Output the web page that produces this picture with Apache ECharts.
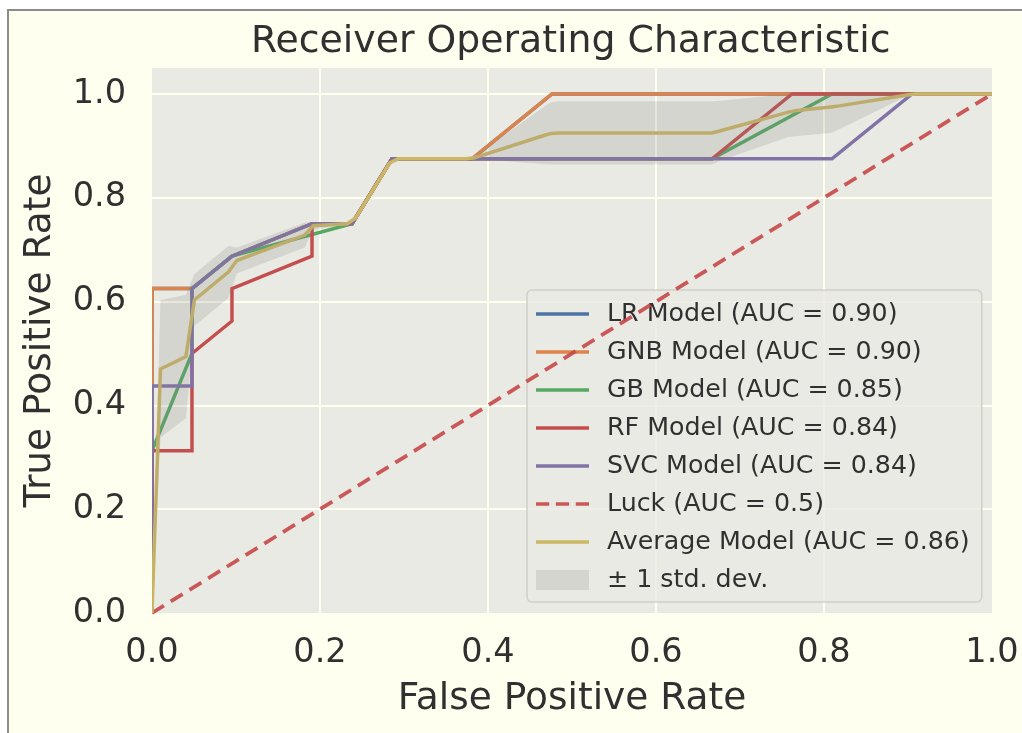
<!DOCTYPE html>
<html><head><meta charset="utf-8">
<script src="https://cdn.jsdelivr.net/npm/echarts@6/dist/echarts.min.js"></script>
<style>
html,body{margin:0;padding:0;background:#ffffff;width:1022px;height:733px;overflow:hidden;}
#frame{position:absolute;left:7px;top:9px;width:1015px;height:724px;background:#FFFFF0;border-top:2px solid #8c8c8c;border-left:2px solid #8c8c8c;box-sizing:border-box;}
#chart{position:absolute;left:0;top:0;width:1022px;height:733px;}
</style></head><body>
<div id="frame"></div>
<div id="chart"></div>
<script>
// ---------- data ----------
const titleText = 'Receiver Operating Characteristic';
const xAxisName = 'False Positive Rate';
const yAxisName = 'True Positive Rate';
const xTickLabels = ['0.0', '0.2', '0.4', '0.6', '0.8', '1.0'];
const yTickLabels = ['0.0', '0.2', '0.4', '0.6', '0.8', '1.0'];

const seriesNames = [
  'LR Model (AUC = 0.90)',
  'GNB Model (AUC = 0.90)',
  'GB Model (AUC = 0.85)',
  'RF Model (AUC = 0.84)',
  'SVC Model (AUC = 0.84)',
  'Luck (AUC = 0.5)',
  'Average Model (AUC = 0.86)',
  '± 1 std. dev.'
];

const lrFpr  = [0, 0, 0.0476, 0.0952, 0.1905, 0.2381, 0.2857, 0.3810, 0.4762, 1];
const lrTpr  = [0, 0.625, 0.625, 0.6875, 0.75, 0.75, 0.875, 0.875, 1, 1];

const gnbFpr = [0, 0, 0.0476, 0.0952, 0.1905, 0.2381, 0.2857, 0.3810, 0.4762, 1];
const gnbTpr = [0, 0.625, 0.625, 0.6875, 0.75, 0.75, 0.875, 0.875, 1, 1];

const gbFpr  = [0, 0, 0.0476, 0.0476, 0.0952, 0.2381, 0.2857, 0.6667, 0.8095, 1];
const gbTpr  = [0, 0.3125, 0.5, 0.625, 0.6875, 0.75, 0.875, 0.875, 1, 1];

const rfFpr  = [0, 0, 0.0476, 0.0476, 0.0952, 0.0952, 0.1905, 0.1905, 0.2381, 0.2857, 0.6667, 0.7619, 1];
const rfTpr  = [0, 0.3125, 0.3125, 0.5, 0.5625, 0.625, 0.6875, 0.75, 0.75, 0.875, 0.875, 1, 1];

const svcFpr = [0, 0, 0.0476, 0.0476, 0.0952, 0.1905, 0.2381, 0.2857, 0.8095, 0.9048, 1];
const svcTpr = [0, 0.4375, 0.4375, 0.625, 0.6875, 0.75, 0.75, 0.875, 0.875, 1, 1];

const luckFpr = [0, 1];
const luckTpr = [0, 1];

const meanFpr = [0, 0.0101, 0.0404, 0.0505, 0.0909, 0.1010, 0.1818, 0.1919, 0.2323, 0.2424, 0.2828, 0.2929, 0.3737, 0.3838, 0.4646, 0.4747, 0.4848, 0.6667, 0.6768, 0.7576, 0.7677, 0.8081, 0.8182, 0.8990, 0.9091, 1];
const meanTpr = [0, 0.470, 0.494, 0.603, 0.657, 0.679, 0.728, 0.746, 0.750, 0.761, 0.867, 0.875, 0.875, 0.877, 0.919, 0.924, 0.925, 0.925, 0.929, 0.965, 0.968, 0.975, 0.977, 0.998, 1, 1];

const bandFpr   = [0, 0.0101, 0.0404, 0.0505, 0.0909, 0.1010, 0.1818, 0.1919, 0.2323, 0.2424, 0.2828, 0.2929, 0.3737, 0.3838, 0.4646, 0.4747, 0.4848, 0.6667, 0.6768, 0.7576, 0.7677, 0.8081, 0.8182, 0.8990, 0.9091, 1];
const bandUpper = [0, 0.603, 0.613, 0.653, 0.707, 0.704, 0.752, 0.754, 0.751, 0.761, 0.867, 0.875, 0.875, 0.879, 0.973, 0.984, 0.986, 0.986, 0.987, 1, 1, 1, 1, 1, 1, 1];
const bandLower = [0, 0.338, 0.375, 0.553, 0.607, 0.654, 0.704, 0.738, 0.749, 0.761, 0.867, 0.875, 0.875, 0.875, 0.865, 0.864, 0.864, 0.864, 0.872, 0.917, 0.919, 0.925, 0.932, 0.996, 1, 1];

// ---------- styles ----------
const colors = ['#4C72A6', '#DD844D', '#55A862', '#C44E4D', '#8172A7', 'rgba(200,72,72,0.9)', '#CDB765', 'rgba(128,128,128,0.2)'];
const FONT = 'DejaVu Sans';
const TXT = '#303030';
const GRID = { left: 152, right: 30, top: 68, bottom: 120 };
const FRAME_BG = '#FFFFF0';

function zip(a, b) { return a.map((v, i) => [v, b[i]]); }

const lineSets = [[lrFpr, lrTpr], [gnbFpr, gnbTpr], [gbFpr, gbTpr], [rfFpr, rfTpr], [svcFpr, svcTpr], [luckFpr, luckTpr], [meanFpr, meanTpr]];

const series = lineSets.map((s, i) => ({
  type: 'line',
  name: seriesNames[i],
  data: zip(s[0], s[1]),
  symbol: 'none',
  showSymbol: false,
  silent: true,
  animation: false,
  z: 2 + i,
  itemStyle: { color: colors[i] },
  lineStyle: { color: colors[i], width: i === 5 ? 3.8 : 3.5, type: i === 5 ? [14, 8] : 'solid', cap: 'butt', join: 'miter' }
}));

series.push({
  type: 'custom',
  name: seriesNames[7],
  animation: false,
  silent: true,
  z: 20,
  itemStyle: { color: colors[7] },
  data: [[0, 0]],
  renderItem: function (params, api) {
    const pts = [];
    for (let i = 0; i < bandFpr.length; i++) pts.push(api.coord([bandFpr[i], bandUpper[i]]));
    for (let i = bandFpr.length - 1; i >= 0; i--) pts.push(api.coord([bandFpr[i], bandLower[i]]));
    return { type: 'polygon', shape: { points: pts }, style: { fill: colors[7], stroke: 'none' } };
  }
});

const lineIcon = 'path://M0,0L53,0L53,3.5L0,3.5Z';
const dashIcon = 'path://M0,0h13v3.5h-13z M19.5,0h13v3.5h-13z M39,0h13v3.5h-13z';
const rectIcon = 'path://M0,0L53,0L53,20L0,20Z';

const legendData = seriesNames.map((n, i) => ({
  name: n,
  icon: i === 7 ? rectIcon : (i === 5 ? dashIcon : lineIcon)
}));

const chart = echarts.init(document.getElementById('chart'), null, { renderer: 'canvas' });
chart.setOption({
  backgroundColor: 'transparent',
  animation: false,
  textStyle: { fontFamily: FONT },
  title: {
    text: titleText, left: 251, top: 23, padding: 0,
    textStyle: { fontFamily: FONT, fontSize: 37.8, fontWeight: 'normal', color: TXT }
  },
  grid: { left: GRID.left, right: GRID.right, top: GRID.top, bottom: GRID.bottom, show: true, backgroundColor: '#EAEAE4', borderWidth: 0 },
  // mask the half of edge lines that falls outside the axes area (matplotlib-style clipping)
  graphic: [{
    type: 'rect', silent: true, z: 100,
    shape: { x: GRID.left - 5, y: GRID.top - 5, width: 5, height: 733 - GRID.top - GRID.bottom + 10 },
    style: { fill: FRAME_BG }
  }],
  legend: {
    orient: 'vertical', left: 527, top: 290,
    itemWidth: 53, itemHeight: 30, itemGap: 8,
    padding: [9, 12, 7, 9],
    backgroundColor: 'rgba(234,234,228,0.8)', borderColor: '#D0D0C8', borderWidth: 1.5, borderRadius: 5,
    selectedMode: false,
    textStyle: { fontFamily: FONT, fontSize: 25.3, color: TXT, padding: [0, 0, 0, 13], lineHeight: 30 },
    data: legendData
  },
  xAxis: {
    type: 'value', min: 0, max: 1, interval: 0.2,
    axisLine: { show: false }, axisTick: { show: false },
    axisLabel: { fontFamily: FONT, fontSize: 33.5, color: TXT, margin: 23,
      formatter: v => xTickLabels[Math.round(v * 5)] },
    splitLine: { show: true, showMinLine: false, showMaxLine: false, lineStyle: { color: '#FFFFF0', width: 2 } },
    name: xAxisName, nameLocation: 'middle', nameGap: 67,
    nameTextStyle: { fontFamily: FONT, fontSize: 37.5, color: TXT }
  },
  yAxis: {
    type: 'value', min: 0, max: 1.05, interval: 0.2,
    axisLine: { show: false }, axisTick: { show: false },
    axisLabel: { fontFamily: FONT, fontSize: 33.5, color: TXT, margin: 26,
      formatter: v => (Math.abs(v * 5 - Math.round(v * 5)) < 1e-6 ? yTickLabels[Math.round(v * 5)] : '') },
    splitLine: { show: true, showMinLine: false, showMaxLine: false, lineStyle: { color: '#FFFFF0', width: 2 } },
    name: yAxisName, nameLocation: 'middle', nameGap: 93,
    nameTextStyle: { fontFamily: FONT, fontSize: 37.5, color: TXT }
  },
  series: series
});
</script>
</body></html>
